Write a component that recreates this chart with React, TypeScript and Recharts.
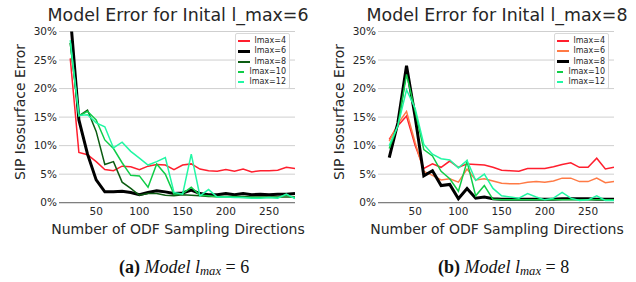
import React from 'react';
import { LineChart, Line, XAxis, YAxis, CartesianGrid, Legend } from 'recharts';

// number of ODF sampling directions
const DIRECTIONS = [20, 30, 40, 50, 60, 70, 80, 90, 100, 110, 120, 130, 140, 150, 160, 170, 180, 190, 200, 210, 220, 230, 240, 250, 260, 270, 280];
const X_TICKS = [50, 100, 150, 200, 250];
const Y_TICKS = [0, 5, 10, 15, 20, 25, 30];

// (a) model lmax = 6, error in %
const A_LMAX4 = [25.3, 8.8, 8.4, 7.2, 5.8, 5.6, 6.4, 6.3, 5.8, 6.4, 6.7, 6.6, 5.8, 6.6, 6.8, 5.9, 5.6, 5.5, 5.8, 5.5, 5.9, 5.4, 5.6, 5.6, 5.7, 6.2, 6.0];
const A_LMAX6 = [33, 14.5, 8.5, 4.0, 1.9, 1.9, 2.0, 1.8, 1.4, 1.8, 2.1, 1.9, 1.6, 1.7, 2.2, 1.6, 1.4, 1.4, 1.6, 1.4, 1.6, 1.4, 1.5, 1.4, 1.5, 1.5, 1.6];
const A_LMAX8 = [28, 15.2, 16.2, 12.5, 6.7, 7.2, 3.6, 2.5, 1.3, 1.6, 1.6, 1.3, 1.2, 1.4, 1.3, 1.2, 1.1, 1.1, 1.1, 1.1, 1.1, 1.0, 1.0, 1.0, 1.0, 1.0, 1.0];
const A_LMAX10 = [28, 15.2, 16.0, 14.5, 11.0, 9.5, 7.0, 4.8, 4.7, 2.7, 6.8, 5.0, 1.5, 1.6, 2.7, 1.3, 1.2, 1.0, 1.0, 1.0, 0.9, 0.9, 0.9, 0.9, 0.9, 1.4, 0.8];
const A_LMAX12 = [28.5, 15.3, 15.4, 14.0, 13.3, 9.6, 10.6, 9.0, 7.8, 6.6, 7.2, 7.9, 1.8, 1.5, 8.5, 1.2, 2.3, 1.0, 1.0, 0.9, 0.9, 0.8, 0.8, 0.9, 0.8, 1.5, 0.7];

// (b) model lmax = 8, error in %
const B_LMAX4 = [11.1, 13.5, 15.2, 10.0, 6.0, 6.8, 6.2, 7.3, 6.2, 6.8, 6.7, 6.6, 6.2, 5.7, 5.6, 5.5, 6.0, 6.0, 6.0, 6.3, 6.7, 7.0, 6.2, 6.2, 7.8, 5.9, 6.2];
const B_LMAX6 = [10.8, 13.8, 16.0, 10.5, 5.5, 4.8, 4.0, 4.2, 3.6, 5.9, 4.0, 4.2, 3.8, 3.4, 3.3, 3.3, 3.6, 3.7, 3.6, 3.8, 4.3, 4.3, 3.7, 3.7, 4.3, 3.5, 3.7];
const B_LMAX8 = [7.9, 14.0, 24.0, 15.0, 4.7, 5.6, 3.0, 3.2, 0.7, 2.5, 0.8, 1.0, 0.7, 0.6, 0.6, 0.6, 0.6, 0.6, 0.6, 0.6, 0.7, 0.7, 0.7, 0.7, 0.6, 0.6, 0.6];
const B_LMAX10 = [9.5, 13.5, 22.5, 16.0, 9.3, 8.2, 5.5, 4.2, 2.0, 7.2, 1.2, 3.0, 0.6, 0.5, 0.5, 0.5, 0.5, 0.5, 0.5, 0.5, 0.5, 0.5, 0.5, 0.5, 0.5, 0.5, 0.5];
const B_LMAX12 = [10.0, 13.5, 19.8, 16.5, 10.2, 8.5, 7.7, 7.5, 6.1, 7.4, 3.9, 5.0, 2.5, 1.2, 1.0, 0.8, 1.6, 1.0, 0.5, 0.8, 1.8, 0.8, 0.4, 0.5, 1.2, 0.4, 0.4];

const SERIES_NAMES = ['lmax=4', 'lmax=6', 'lmax=8', 'lmax=10', 'lmax=12'];

const FONT = '"DejaVu Sans", sans-serif';
const SERIF = '"Liberation Serif", "Times New Roman", serif';
const TEXT = '#262626';

interface Series {
  key: string;
  name: string;
  color: string;
  width: number;
}

const SERIES_A: Series[] = [
  { key: 's0', name: SERIES_NAMES[0], color: '#ff1f2e', width: 1.5 },
  { key: 's1', name: SERIES_NAMES[1], color: '#000000', width: 3 },
  { key: 's2', name: SERIES_NAMES[2], color: '#0c5c12', width: 1.5 },
  { key: 's3', name: SERIES_NAMES[3], color: '#10cc48', width: 1.5 },
  { key: 's4', name: SERIES_NAMES[4], color: '#22f7a4', width: 1.5 },
];

const SERIES_B: Series[] = [
  { key: 's0', name: SERIES_NAMES[0], color: '#ff1f2e', width: 1.5 },
  { key: 's1', name: SERIES_NAMES[1], color: '#ff7a45', width: 1.5 },
  { key: 's2', name: SERIES_NAMES[2], color: '#000000', width: 3 },
  { key: 's3', name: SERIES_NAMES[3], color: '#10cc48', width: 1.5 },
  { key: 's4', name: SERIES_NAMES[4], color: '#22f7a4', width: 1.5 },
];

function buildRows(cols: number[][]) {
  return DIRECTIONS.map((x, i) => {
    const row: Record<string, number> = { x };
    cols.forEach((c, j) => {
      row['s' + j] = c[i];
    });
    return row;
  });
}

const ROWS_A = buildRows([A_LMAX4, A_LMAX6, A_LMAX8, A_LMAX10, A_LMAX12]);
const ROWS_B = buildRows([B_LMAX4, B_LMAX6, B_LMAX8, B_LMAX10, B_LMAX12]);

function BoxLegend({ series }: { series: Series[] }) {
  return (
    <div
      style={{
        border: '1px solid #d8d8d8',
        borderRadius: 2,
        background: 'rgba(255,255,255,0.85)',
        padding: '2px 3px 1px 2px',
        fontFamily: FONT,
        fontSize: 8,
        color: TEXT,
      }}
    >
      {series.map((s) => (
        <div key={s.key} style={{ display: 'flex', alignItems: 'center', height: 10.3 }}>
          <div style={{ width: 15, height: s.width > 2 ? 3 : 2, background: s.color, marginRight: 5 }} />
          <span style={{ lineHeight: '10px' }}>{s.name}</span>
        </div>
      ))}
    </div>
  );
}

function ErrorPanel({ rows, series }: { rows: Record<string, number>[]; series: Series[] }) {
  return (
    <LineChart width={318} height={240} data={rows} margin={{ top: 31.5, right: 23, bottom: 17.3, left: 0 }}>
      <CartesianGrid horizontal vertical={false} stroke="#cfcfcf" strokeWidth={1} />
      <XAxis
        type="number"
        dataKey="x"
        domain={[7, 280]}
        ticks={X_TICKS}
        allowDataOverflow
        height={20}
        tickLine={false}
        tickSize={0}
        tickMargin={5}
        stroke="#6a6a6a"
        tick={{ fontSize: 10.5, fill: TEXT, fontFamily: FONT }}
      />
      <YAxis
        type="number"
        domain={[0, 30]}
        ticks={Y_TICKS}
        allowDataOverflow
        width={59}
        axisLine={false}
        tickLine={false}
        tickSize={0}
        tickMargin={2}
        tickFormatter={(v) => `${v}%`}
        tick={{ fontSize: 10.5, fill: TEXT, fontFamily: FONT }}
      />
      <Legend
        layout="vertical"
        align="center"
        verticalAlign="middle"
        wrapperStyle={{ left: 235, top: 33, width: 55 }}
        content={() => <BoxLegend series={series} />}
      />
      {series.map((s) => (
        <Line
          key={s.key}
          type="linear"
          dataKey={s.key}
          name={s.name}
          stroke={s.color}
          strokeWidth={s.width}
          dot={false}
          activeDot={false}
          isAnimationActive={false}
        />
      ))}
    </LineChart>
  );
}

function PanelText({ offset, title, captionLetter, captionNum }: { offset: number; title: string; captionLetter: string; captionNum: string }) {
  const cx = offset + 178;
  return (
    <g>
      <text x={cx} y={21} textAnchor="middle" fontFamily={FONT} fontSize={17.4} fill={TEXT}>
        {title}
      </text>
      <text
        x={0}
        y={0}
        transform={`translate(${offset + 24.5}, 112) rotate(-90)`}
        textAnchor="middle"
        fontFamily={FONT}
        fontSize={14}
        fill={TEXT}
      >
        SIP Isosurface Error
      </text>
      <text x={cx} y={234} textAnchor="middle" fontFamily={FONT} fontSize={14} fill={TEXT}>
        Number of ODF Sampling Directions
      </text>
      <text x={offset + 119} y={273} fontFamily={SERIF} fontSize={18} fill="#111">
        <tspan fontWeight="bold">({captionLetter})</tspan>
        <tspan fontStyle="italic"> Model l</tspan>
        <tspan fontStyle="italic" fontSize={12.6} dy={2}>max</tspan>
        <tspan dy={-2}> = {captionNum}</tspan>
      </text>
    </g>
  );
}

export default function App() {
  return (
    <div style={{ position: 'absolute', left: 0, top: 0, width: 636, height: 282, background: '#fff' }}>
      <div style={{ position: 'absolute', left: 0, top: 0 }}>
        <ErrorPanel rows={ROWS_A} series={SERIES_A} />
      </div>
      <div style={{ position: 'absolute', left: 319, top: 0 }}>
        <ErrorPanel rows={ROWS_B} series={SERIES_B} />
      </div>
      <svg width={636} height={282} style={{ position: 'absolute', left: 0, top: 0, pointerEvents: 'none' }}>
        <PanelText offset={0} title="Model Error for Inital l_max=6" captionLetter="a" captionNum="6" />
        <PanelText offset={319} title="Model Error for Inital l_max=8" captionLetter="b" captionNum="8" />
      </svg>
    </div>
  );
}
